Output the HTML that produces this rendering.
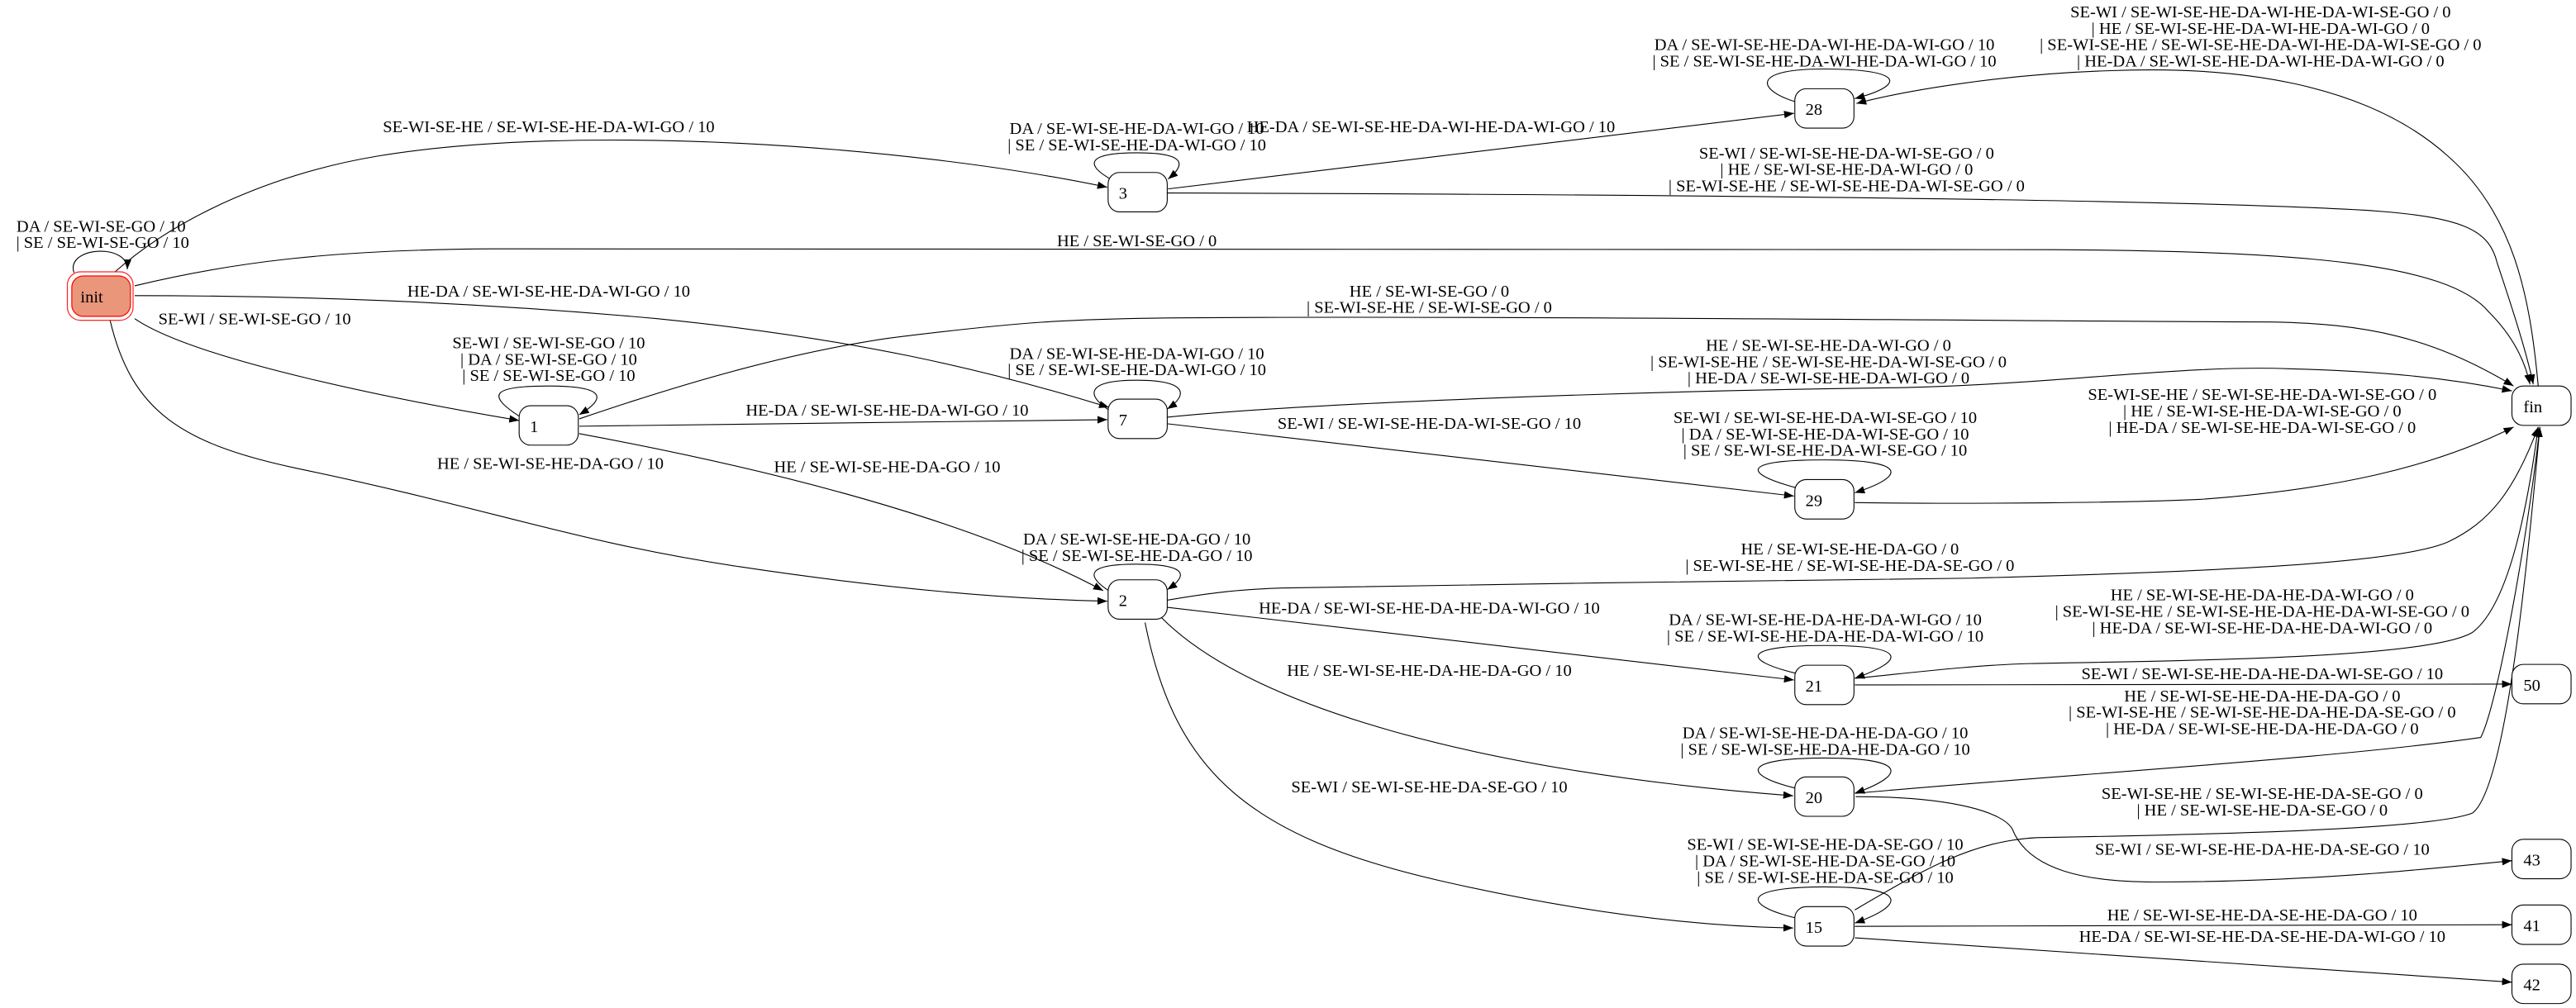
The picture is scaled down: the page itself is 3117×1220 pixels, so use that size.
<!DOCTYPE html>
<html><head><meta charset="utf-8"><style>
html,body{margin:0;padding:0;background:#fff;}
svg{display:block;}
text{font-family:"Liberation Serif","Times New Roman",serif;font-size:10.3px;fill:#000;}
.l{text-anchor:middle;}
.e{fill:none;stroke:#000;stroke-width:0.55;}
.n{fill:#fff;stroke:#000;stroke-width:0.55;}
</style></head><body>
<svg width="3117" height="1220" viewBox="0 0 1568 613.7" xmlns="http://www.w3.org/2000/svg">
<defs>
<marker id="a" markerUnits="userSpaceOnUse" markerWidth="7" markerHeight="6" refX="6" refY="2.3" orient="auto">
<path d="M0,0 L6,2.3 L0,4.6 z" fill="#000"/>
</marker>
</defs>
<rect width="1568" height="613.7" fill="#fff"/>

<!-- edges -->
<g class="e" marker-end="url(#a)">
<path d="M70,165.5 C110,130 170,105 230,95 C350,75 550,88 674,114"/>
<path d="M45,166 C40,150 78,148 77.5,164"/>
<path d="M82,174 C140,160 200,152 300,151.5 L1250,152 C1400,153 1490,160 1515,190 C1530,205 1537,220 1540,234"/>
<path d="M82,180 C200,180 300,185 400,194 C520,206 600,225 675,248"/>
<path d="M82,194 C120,220 250,245 316,256"/>
<path d="M67,195 C80,250 110,270 180,285 C300,310 350,330 450,345 C550,360 620,365 674,366"/>
<path d="M317,254 C295,240 300,235 334,235 C368,235 370,242 352.5,252.5"/>
<path d="M352.6,255 C420,232 480,215 540,206 C620,196 650,194 720,193.5 C900,192 1300,196 1382,196 C1440,197 1480,205 1530,235"/>
<path d="M352.6,259.5 L674,255.5"/>
<path d="M352.5,264 Q568,304 671.5,359.6"/>
<path d="M676,109 C660,100 662,93 692,93 C722,93 722,100 711,109"/>
<path d="M711,115 L1092,69"/>
<path d="M710,117.5 C900,118 1300,120 1440,128 C1500,132 1515,140 1520,160 C1530,190 1538,215 1542,234"/>
<path d="M1093,62 C1070,55 1065,42 1110,42 C1160,42 1160,52 1129,60"/>
<path d="M1545,235 C1540,180 1530,130 1490,95 C1440,50 1360,40 1285,43 C1220,45 1160,55 1130,63"/>
<path d="M675.5,250 C660,240 662,231.5 692,231.5 C722,231.5 724,240 710.5,249"/>
<path d="M710.5,254 C800,245 1000,238 1157,236 C1250,234 1330,222 1393,224.5 C1450,226 1490,230 1529,238"/>
<path d="M710.5,258 L1092,302"/>
<path d="M1093.5,297 C1060,288 1060,280 1110.5,280 C1162,280 1160,290 1129,300"/>
<path d="M1129,306 C1200,307 1300,306 1340,304 C1420,298 1480,285 1530,260"/>
<path d="M675.5,360 C660,350 662,343.5 692,343.5 C722,343.5 724,350 710.5,359"/>
<path d="M710,365.5 C730,362 750,359 780,358 C900,355 1100,354 1200,352 C1350,348 1460,343 1490,330 C1515,318 1530,300 1545,260"/>
<path d="M710,369.7 L1092,414"/>
<path d="M707,376 C760,430 900,470 1091.5,484.5"/>
<path d="M697,379 C715,470 760,510 880,537 C960,555 1030,564 1091.5,565"/>
<path d="M1093.5,410 C1060,402 1060,393 1110.5,393 C1162,393 1160,402 1129,413"/>
<path d="M1129,413 C1160,410 1200,405 1235,404 C1350,402 1480,400 1505,385 C1525,370 1537,320 1545,260"/>
<path d="M1129,417 L1529,416.5"/>
<path d="M1093.5,480 C1060,472 1060,461.5 1110.5,461.5 C1162,461.5 1160,472 1129,483"/>
<path d="M1129.5,483 C1250,472 1420,462 1510,449 C1520,430 1538,330 1546,260"/>
<path d="M1129.5,485 C1190,485 1220,495 1225,505 C1235,530 1270,537 1312,537 C1400,537 1470,530 1529,524"/>
<path d="M1093.5,559 C1060,551 1060,540 1110.5,540 C1162,540 1160,551 1129,562"/>
<path d="M1129,554 C1170,530 1200,512 1240,510 C1350,508 1480,505 1505,495 C1525,480 1538,350 1546,260"/>
<path d="M1129,564 L1529,563"/>
<path d="M1129,571 L1529,598"/>
</g>

<!-- nodes -->
<rect x="41" y="165.5" width="40" height="29.5" rx="8" fill="#fff" stroke="#ff2020" stroke-width="0.6"/>
<rect x="43.7" y="168" width="35.7" height="24.6" rx="7" fill="#e9967a" stroke="#ff0000" stroke-width="0.6"/>
<text x="49" y="184">init</text>
<g class="n">
<rect x="674.5" y="105" width="36" height="24" rx="7"/>
<rect x="1092.5" y="54" width="36" height="24" rx="7"/>
<rect x="1529" y="235" width="36" height="24" rx="7"/>
<rect x="316" y="247" width="36" height="24" rx="7"/>
<rect x="674.5" y="243" width="36" height="24" rx="7"/>
<rect x="1092.5" y="292" width="36" height="24" rx="7"/>
<rect x="674.5" y="353" width="36" height="24" rx="7"/>
<rect x="1092.5" y="405" width="36" height="24" rx="7"/>
<rect x="1529" y="404.5" width="36" height="24" rx="7"/>
<rect x="1092.5" y="473" width="36" height="24" rx="7"/>
<rect x="1529" y="511" width="36" height="24" rx="7"/>
<rect x="1092.5" y="552" width="36" height="24" rx="7"/>
<rect x="1529" y="551" width="36" height="24" rx="7"/>
<rect x="1529" y="587" width="36" height="24" rx="7"/>
</g>
<text x="681" y="121">3</text>
<text x="1099" y="70">28</text>
<text x="1536" y="251">fin</text>
<text x="322.5" y="263">1</text>
<text x="681" y="259">7</text>
<text x="1099" y="308">29</text>
<text x="681" y="369">2</text>
<text x="1099" y="421">21</text>
<text x="1536" y="420.5">50</text>
<text x="1099" y="489">20</text>
<text x="1536" y="527">43</text>
<text x="1099" y="568">15</text>
<text x="1536" y="567">41</text>
<text x="1536" y="603">42</text>

<!-- labels -->
<g class="l">
<text x="334" y="80.5">SE-WI-SE-HE / SE-WI-SE-HE-DA-WI-GO / 10</text>
<text x="61.5" y="141">DA / SE-WI-SE-GO / 10</text>
<text x="62.5" y="151">| SE / SE-WI-SE-GO / 10</text>
<text x="692" y="150">HE / SE-WI-SE-GO / 0</text>
<text x="334" y="180.5">HE-DA / SE-WI-SE-HE-DA-WI-GO / 10</text>
<text x="155" y="197.5">SE-WI / SE-WI-SE-GO / 10</text>
<text x="335" y="285.5">HE / SE-WI-SE-HE-DA-GO / 10</text>
<text x="334" y="212">SE-WI / SE-WI-SE-GO / 10</text>
<text x="334" y="222">| DA / SE-WI-SE-GO / 10</text>
<text x="334" y="232">| SE / SE-WI-SE-GO / 10</text>
<text x="870" y="180.5">HE / SE-WI-SE-GO / 0</text>
<text x="870" y="190.5">| SE-WI-SE-HE / SE-WI-SE-GO / 0</text>
<text x="540" y="253">HE-DA / SE-WI-SE-HE-DA-WI-GO / 10</text>
<text x="540" y="287.5">HE / SE-WI-SE-HE-DA-GO / 10</text>
<text x="692" y="81.5">DA / SE-WI-SE-HE-DA-WI-GO / 10</text>
<text x="692" y="91.5">| SE / SE-WI-SE-HE-DA-WI-GO / 10</text>
<text x="871" y="80.5">HE-DA / SE-WI-SE-HE-DA-WI-HE-DA-WI-GO / 10</text>
<text x="1124" y="96.5">SE-WI / SE-WI-SE-HE-DA-WI-SE-GO / 0</text>
<text x="1124" y="106.5">| HE / SE-WI-SE-HE-DA-WI-GO / 0</text>
<text x="1124" y="116.5">| SE-WI-SE-HE / SE-WI-SE-HE-DA-WI-SE-GO / 0</text>
<text x="1110.5" y="30.5">DA / SE-WI-SE-HE-DA-WI-HE-DA-WI-GO / 10</text>
<text x="1110.5" y="40.5">| SE / SE-WI-SE-HE-DA-WI-HE-DA-WI-GO / 10</text>
<text x="1376" y="10.5">SE-WI / SE-WI-SE-HE-DA-WI-HE-DA-WI-SE-GO / 0</text>
<text x="1376" y="20.5">| HE / SE-WI-SE-HE-DA-WI-HE-DA-WI-GO / 0</text>
<text x="1376" y="30.5">| SE-WI-SE-HE / SE-WI-SE-HE-DA-WI-HE-DA-WI-SE-GO / 0</text>
<text x="1376" y="40.5">| HE-DA / SE-WI-SE-HE-DA-WI-HE-DA-WI-GO / 0</text>
<text x="692" y="218.5">DA / SE-WI-SE-HE-DA-WI-GO / 10</text>
<text x="692" y="228.5">| SE / SE-WI-SE-HE-DA-WI-GO / 10</text>
<text x="1113" y="213.5">HE / SE-WI-SE-HE-DA-WI-GO / 0</text>
<text x="1113" y="223.5">| SE-WI-SE-HE / SE-WI-SE-HE-DA-WI-SE-GO / 0</text>
<text x="1113" y="233.5">| HE-DA / SE-WI-SE-HE-DA-WI-GO / 0</text>
<text x="870" y="261">SE-WI / SE-WI-SE-HE-DA-WI-SE-GO / 10</text>
<text x="1111" y="257.5">SE-WI / SE-WI-SE-HE-DA-WI-SE-GO / 10</text>
<text x="1111" y="267.5">| DA / SE-WI-SE-HE-DA-WI-SE-GO / 10</text>
<text x="1111" y="277.5">| SE / SE-WI-SE-HE-DA-WI-SE-GO / 10</text>
<text x="1377" y="243.5">SE-WI-SE-HE / SE-WI-SE-HE-DA-WI-SE-GO / 0</text>
<text x="1377" y="253.5">| HE / SE-WI-SE-HE-DA-WI-SE-GO / 0</text>
<text x="1377" y="263.5">| HE-DA / SE-WI-SE-HE-DA-WI-SE-GO / 0</text>
<text x="692" y="331.5">DA / SE-WI-SE-HE-DA-GO / 10</text>
<text x="692" y="341.5">| SE / SE-WI-SE-HE-DA-GO / 10</text>
<text x="1126" y="337.5">HE / SE-WI-SE-HE-DA-GO / 0</text>
<text x="1126" y="347.5">| SE-WI-SE-HE / SE-WI-SE-HE-DA-SE-GO / 0</text>
<text x="870" y="373.5">HE-DA / SE-WI-SE-HE-DA-HE-DA-WI-GO / 10</text>
<text x="870" y="411.5">HE / SE-WI-SE-HE-DA-HE-DA-GO / 10</text>
<text x="870" y="482.5">SE-WI / SE-WI-SE-HE-DA-SE-GO / 10</text>
<text x="1111" y="380.5">DA / SE-WI-SE-HE-DA-HE-DA-WI-GO / 10</text>
<text x="1111" y="390.5">| SE / SE-WI-SE-HE-DA-HE-DA-WI-GO / 10</text>
<text x="1377" y="365.5">HE / SE-WI-SE-HE-DA-HE-DA-WI-GO / 0</text>
<text x="1377" y="375.5">| SE-WI-SE-HE / SE-WI-SE-HE-DA-HE-DA-WI-SE-GO / 0</text>
<text x="1377" y="385.5">| HE-DA / SE-WI-SE-HE-DA-HE-DA-WI-GO / 0</text>
<text x="1377" y="413.5">SE-WI / SE-WI-SE-HE-DA-HE-DA-WI-SE-GO / 10</text>
<text x="1111" y="449.5">DA / SE-WI-SE-HE-DA-HE-DA-GO / 10</text>
<text x="1111" y="459.5">| SE / SE-WI-SE-HE-DA-HE-DA-GO / 10</text>
<text x="1377" y="427">HE / SE-WI-SE-HE-DA-HE-DA-GO / 0</text>
<text x="1377" y="437">| SE-WI-SE-HE / SE-WI-SE-HE-DA-HE-DA-SE-GO / 0</text>
<text x="1377" y="447">| HE-DA / SE-WI-SE-HE-DA-HE-DA-GO / 0</text>
<text x="1377" y="486.5">SE-WI-SE-HE / SE-WI-SE-HE-DA-SE-GO / 0</text>
<text x="1377" y="496.5">| HE / SE-WI-SE-HE-DA-SE-GO / 0</text>
<text x="1377" y="520.5">SE-WI / SE-WI-SE-HE-DA-HE-DA-SE-GO / 10</text>
<text x="1111" y="517.5">SE-WI / SE-WI-SE-HE-DA-SE-GO / 10</text>
<text x="1111" y="527.5">| DA / SE-WI-SE-HE-DA-SE-GO / 10</text>
<text x="1111" y="537.5">| SE / SE-WI-SE-HE-DA-SE-GO / 10</text>
<text x="1377" y="560.5">HE / SE-WI-SE-HE-DA-SE-HE-DA-GO / 10</text>
<text x="1377" y="573.5">HE-DA / SE-WI-SE-HE-DA-SE-HE-DA-WI-GO / 10</text>
</g>
</svg>
</body></html>
